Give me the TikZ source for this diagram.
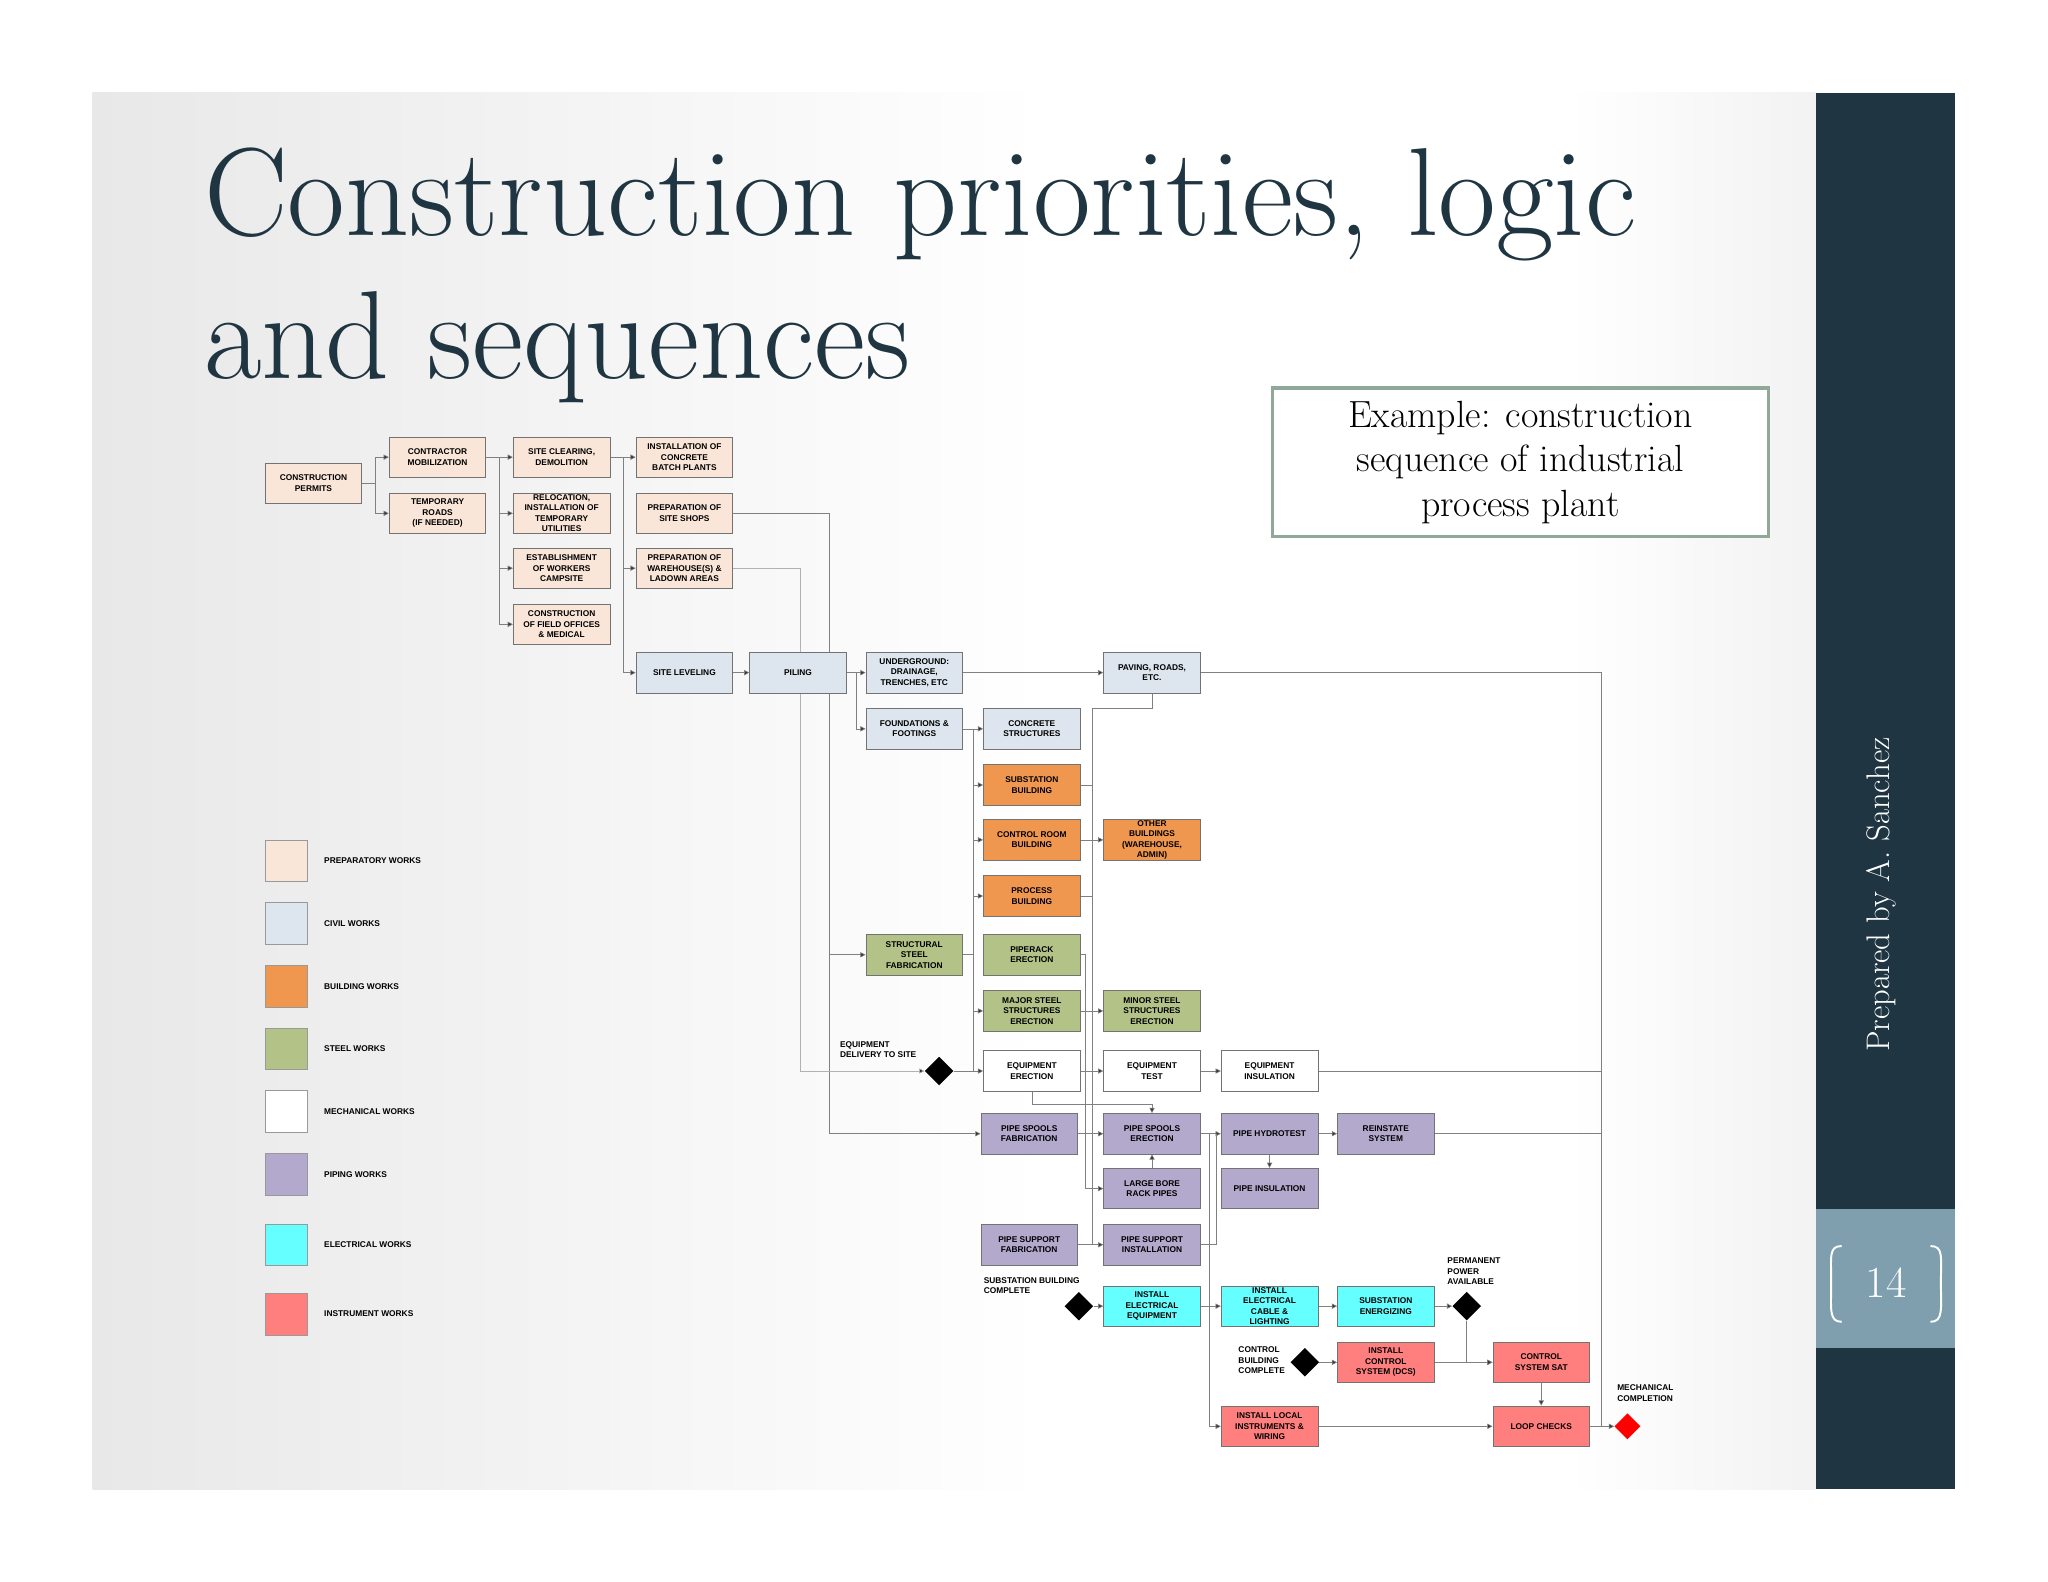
\documentclass[tikz,border=0pt]{standalone}
\usepackage{fontspec}
\setsansfont{Liberation Sans}
\usetikzlibrary{arrows.meta,shapes.geometric}
\pgfdeclarelayer{back}
\pgfdeclarelayer{bg}
\pgfsetlayers{back,bg,main}
\definecolor{dk}{HTML}{1F3541}
\definecolor{side}{HTML}{7F9FAE}
\definecolor{exb}{HTML}{8FA898}
\definecolor{prepc}{HTML}{FAE6D8}
\definecolor{civc}{HTML}{DDE6EE}
\definecolor{bldc}{HTML}{F0974F}
\definecolor{stlc}{HTML}{B3C286}
\definecolor{pipc}{HTML}{B2A9CC}
\definecolor{elec}{HTML}{66FFFF}
\definecolor{insc}{HTML}{FF7F7F}
\newcommand{\bx}{\sffamily\bfseries\fontsize{6.4}{8}\selectfont}
\tikzset{
 box/.style={draw=black!55,line width=0.6pt,minimum width=74pt,minimum height=31pt,inner sep=0pt,align=center,font=\bx},
 prep/.style={box,fill=prepc}, civ/.style={box,fill=civc}, bld/.style={box,fill=bldc},
 stl/.style={box,fill=stlc}, mech/.style={box,fill=white}, pip/.style={box,fill=pipc},
 ele/.style={box,fill=elec}, ins/.style={box,fill=insc},
 ln/.style={draw=black!50,line width=0.5pt},
 ar/.style={ln,-{Triangle[length=4pt,width=4pt,fill=black!80]}},
 dia/.style={diamond,fill=black,minimum size=22pt,inner sep=0pt},
 lab/.style={font=\bx,align=left,anchor=north west,inner sep=0pt},
 leg/.style={draw=black!40,line width=0.5pt,minimum size=32pt,inner sep=0pt},
 legt/.style={font=\bx,anchor=west,inner sep=0pt}
}
\begin{document}
\begin{tikzpicture}[x=1pt,y=-1pt]
\useasboundingbox (0,0) rectangle (1568,1211);
\begin{pgfonlayer}{back}
\fill[white] (0,0) rectangle (1568,1211);
\shade[left color=black!9,right color=white] (71,71) rectangle (800,1140);
\fill[white] (800,71) rectangle (1390,1140);
\shade[left color=white,right color=black!5] (1200,71) rectangle (1390,1140);
\fill[dk] (1390,71) rectangle (1497,1140);
\fill[side] (1390,926) rectangle (1497,1032);
\end{pgfonlayer}
\node[text=white,font=\fontsize{25}{25}\selectfont,rotate=90] (prep) at (1440,685) {Prepared by A. Sanchez};
\node[text=white,font=\fontsize{34}{34}\selectfont] (pg) at (1444,982) {14};
\draw[white,line width=1.5pt] (1410,954) .. controls (1400,954) and (1402,962) .. (1402,982) .. controls (1402,1002) and (1400,1012) .. (1410,1012);
\draw[white,line width=1.5pt] (1478,954) .. controls (1488,954) and (1486,962) .. (1486,982) .. controls (1486,1002) and (1488,1012) .. (1478,1012);
\node[text=dk,anchor=base west,inner sep=0pt,font=\fontsize{96}{96}\selectfont] (t1) at (156,180) {Construction priorities, logic};
\node[text=dk,anchor=base west,inner sep=0pt,font=\fontsize{96}{96}\selectfont] (t2) at (156,290) {and sequences};
\node[draw=exb,line width=2.5pt,fill=white,minimum width=380pt,minimum height=114pt,align=center,font=\fontsize{29}{34}\selectfont] (ex) at (1164,354) {Example: construction\\sequence of industrial\\process plant};
% legend
\node[leg,fill=prepc] (l1) at (219,659) {}; \node[legt] (t1l) at (248,659) {PREPARATORY WORKS};
\node[leg,fill=civc] (l2) at (219,707) {}; \node[legt] (t2l) at (248,707) {CIVIL WORKS};
\node[leg,fill=bldc] (l3) at (219,755) {}; \node[legt] (t3l) at (248,755) {BUILDING WORKS};
\node[leg,fill=stlc] (l4) at (219,803) {}; \node[legt] (t4l) at (248,803) {STEEL WORKS};
\node[leg,fill=white] (l5) at (219,851) {}; \node[legt] (t5l) at (248,851) {MECHANICAL WORKS};
\node[leg,fill=pipc] (l6) at (219,899) {}; \node[legt] (t6l) at (248,899) {PIPING WORKS};
\node[leg,fill=elec] (l7) at (219,953) {}; \node[legt] (t7l) at (248,953) {ELECTRICAL WORKS};
\node[leg,fill=insc] (l8) at (219,1006) {}; \node[legt] (t8l) at (248,1006) {INSTRUMENT WORKS};
% boxes
\node[prep] (permits) at (240,370) {CONSTRUCTION\\PERMITS};
\node[prep] (mob) at (335,350) {CONTRACTOR\\MOBILIZATION};
\node[prep] (roads) at (335,393) {TEMPORARY\\ROADS\\(IF NEEDED)};
\node[prep] (clear) at (430,350) {SITE CLEARING,\\DEMOLITION};
\node[prep] (reloc) at (430,393) {RELOCATION,\\INSTALLATION OF\\TEMPORARY\\UTILITIES};
\node[prep] (camp) at (430,435) {ESTABLISHMENT\\OF WORKERS\\CAMPSITE};
\node[prep] (field) at (430,478) {CONSTRUCTION\\OF FIELD OFFICES\\\& MEDICAL};
\node[prep] (batch) at (524,350) {INSTALLATION OF\\CONCRETE\\BATCH PLANTS};
\node[prep] (shops) at (524,393) {PREPARATION OF\\SITE SHOPS};
\node[prep] (wareh) at (524,435) {PREPARATION OF\\WAREHOUSE(S) \&\\LADOWN AREAS};
\node[civ] (level) at (524,515) {SITE LEVELING};
\node[civ] (piling) at (611,515) {PILING};
\node[civ] (ug) at (700,515) {UNDERGROUND:\\DRAINAGE,\\TRENCHES, ETC};
\node[civ] (fnd) at (700,558) {FOUNDATIONS \&\\FOOTINGS};
\node[civ] (conc) at (790,558) {CONCRETE\\STRUCTURES};
\node[civ] (pav) at (882,515) {PAVING, ROADS,\\ETC.};
\node[bld] (sub) at (790,601) {SUBSTATION\\BUILDING};
\node[bld] (ctl) at (790,643) {CONTROL ROOM\\BUILDING};
\node[bld] (proc) at (790,686) {PROCESS\\BUILDING};
\node[bld] (oth) at (882,643) {OTHER\\BUILDINGS\\(WAREHOUSE,\\ADMIN)};
\node[stl] (ssf) at (700,731) {STRUCTURAL\\STEEL\\FABRICATION};
\node[stl] (pr) at (790,731) {PIPERACK\\ERECTION};
\node[stl] (maj) at (790,774) {MAJOR STEEL\\STRUCTURES\\ERECTION};
\node[stl] (min) at (882,774) {MINOR STEEL\\STRUCTURES\\ERECTION};
\node[mech] (eqe) at (790,820) {EQUIPMENT\\ERECTION};
\node[mech] (eqt) at (882,820) {EQUIPMENT\\TEST};
\node[mech] (eqi) at (972,820) {EQUIPMENT\\INSULATION};
\node[pip] (psf) at (788,868) {PIPE SPOOLS\\FABRICATION};
\node[pip] (pse) at (882,868) {PIPE SPOOLS\\ERECTION};
\node[pip] (hyd) at (972,868) {PIPE HYDROTEST};
\node[pip] (rein) at (1061,868) {REINSTATE\\SYSTEM};
\node[pip] (lb) at (882,910) {LARGE BORE\\RACK PIPES};
\node[pip] (pin) at (972,910) {PIPE INSULATION};
\node[pip] (psuf) at (788,953) {PIPE SUPPORT\\FABRICATION};
\node[pip] (psi) at (882,953) {PIPE SUPPORT\\INSTALLATION};
\node[ele] (iee) at (882,1000) {INSTALL\\ELECTRICAL\\EQUIPMENT};
\node[ele] (iec) at (972,1000) {INSTALL\\ELECTRICAL\\CABLE \&\\LIGHTING};
\node[ele] (sen) at (1061,1000) {SUBSTATION\\ENERGIZING};
\node[ins] (ics) at (1061,1043) {INSTALL\\CONTROL\\SYSTEM (DCS)};
\node[ins] (sat) at (1180,1043) {CONTROL\\SYSTEM SAT};
\node[ins] (ili) at (972,1092) {INSTALL LOCAL\\INSTRUMENTS \&\\WIRING};
\node[ins] (loop) at (1180,1092) {LOOP CHECKS};
% milestones
\node[dia] (edd) at (719,820) {};
\node[lab] (eddl) at (643,797) {EQUIPMENT\\DELIVERY TO SITE};
\node[dia] (subc) at (826,1000) {};
\node[lab] (subcl) at (753,978) {SUBSTATION BUILDING\\COMPLETE};
\node[dia] (ppa) at (1123,1000) {};
\node[lab] (ppal) at (1108,963) {PERMANENT\\POWER\\AVAILABLE};
\node[dia] (cbc) at (999,1043) {};
\node[lab] (cbcl) at (948,1031) {CONTROL\\BUILDING\\COMPLETE};
\node[dia,fill=red,minimum size=20pt] (mc) at (1246,1092) {};
\node[lab] (mcl) at (1238,1060) {MECHANICAL\\COMPLETION};
% connectors
\begin{pgfonlayer}{bg}
\draw[ar] (permits.east) -- ++(10,0) |- (mob.west);
\draw[ar] (permits.east) -- ++(10,0) |- (roads.west);
\foreach \t in {clear,reloc,camp,field} \draw[ar] (mob.east) -- ++(10,0) |- (\t.west);
\foreach \t in {batch,wareh,level} \draw[ar] (clear.east) -- ++(10,0) |- (\t.west);
\draw[ar] (level) -- (piling);
\draw[ar] (shops.east) -- (635,393) |- (ssf.west);
\draw[ar] (shops.east) -- (635,393) |- (psf.west);
\draw[ar,draw=black!30] (wareh.east) -- (613,435) |- (edd.west);
\draw[ar] (piling.east) -- ++(7,0) |- (ug.west);
\draw[ar] (piling.east) -- ++(7,0) |- (fnd.west);
\draw[ar] (ug) -- (pav);
\draw[ar] (fnd) -- (conc);
\foreach \t in {sub,ctl,proc,maj} \draw[ar] (fnd.east) -- (745,558) |- (\t.west);
\draw[ln] (745,558) -- (745,820);
\draw[ln] (ssf.east) -- (745,731);
\draw[ar] (edd) -- (eqe);
\draw[ln] (sub.east) -- (836,601) |- (proc.east);
\draw[ar] (ctl) -- (oth);
\draw[ln] (pav.south) |- (836,542) -- (836,953);
\draw[ar] (pr.east) -- (831,731) |- (lb.west);
\draw[ar] (maj) -- (min);
\draw[ar] (eqe) -- (eqt);
\draw[ar] (eqt) -- (eqi);
\draw[ar] (eqe.south) -- ++(0,10) -| (pse.north);
\draw[ar] (psf) -- (pse);
\draw[ar] (lb) -- (pse);
\draw[ar] (pse) -- (hyd);
\draw[ar] (hyd) -- (rein);
\draw[ar] (hyd) -- (pin);
\draw[ar] (psuf) -- (psi);
\draw[ln] (psi.east) -- (931,953) -- (931,868);
\draw[ar] (pse.east) -- (926,868) |- (ili.west);
\draw[ar] (subc) -- (iee);
\draw[ar] (iee) -- (iec);
\draw[ar] (iec) -- (sen);
\draw[ar] (sen) -- (ppa);
\draw[ar] (ppa.south) |- (sat.west);
\draw[ar] (ics) -- (sat);
\draw[ar] (cbc) -- (ics);
\draw[ar] (sat) -- (loop);
\draw[ar] (ili) -- (loop);
\draw[ar] (loop) -- (mc);
\draw[ln] (pav.east) -| (1226,1092);
\draw[ln] (eqi.east) -- (1226,820);
\draw[ln] (rein.east) -- (1226,868);
\end{pgfonlayer}
\end{tikzpicture}
\end{document}
